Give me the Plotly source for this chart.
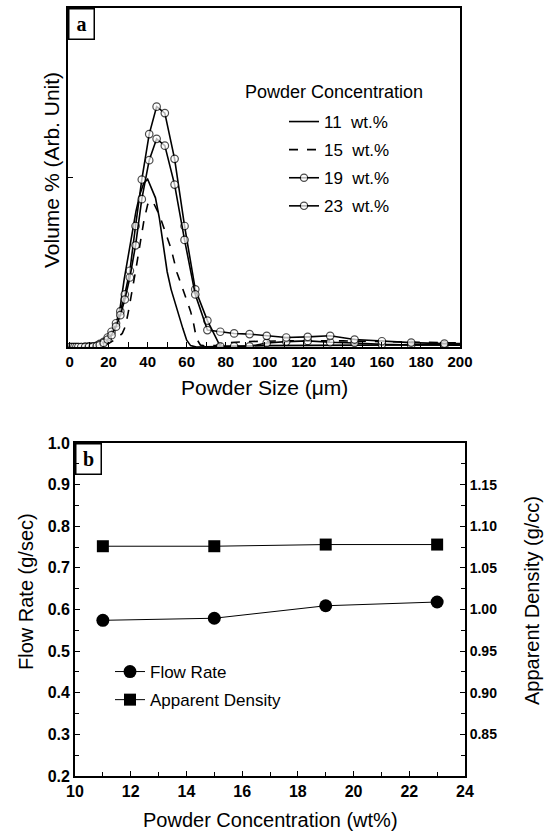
import plotly.graph_objects as go

# ---------------- Panel (a) data ----------------
size_bins = [0.5, 1.5, 2.5, 3.5, 4.5, 6, 8, 10, 12, 14, 15.5, 17.5, 19.5, 21.5, 23.8, 26, 28.3,
             30.9, 33.8, 37, 40.8, 44.6, 48.8, 53.8, 58.9, 64.4, 70.6, 77.2, 84.3, 92.2, 101,
             111, 122, 133.5, 146, 160, 175, 192, 200]
vol_19 = [0, 0, 0, 0, 0, 0, 0.001, 0.001, 0.002, 0.004, 0.009, 0.015, 0.028, 0.045, 0.07, 0.105,
          0.155, 0.225, 0.357, 0.494, 0.628, 0.709, 0.69, 0.555, 0.357, 0.17, 0.078, 0.002, 0.002,
          0.002, 0.012, 0.016, 0.018, 0.014, 0.012, 0.008, 0.006, 0.005, 0.005]
vol_23 = [0, 0, 0, 0, 0, 0, 0, 0.001, 0.001, 0.003, 0.006, 0.012, 0.022, 0.035, 0.06, 0.094,
          0.14, 0.205, 0.3, 0.436, 0.551, 0.614, 0.594, 0.479, 0.316, 0.155, 0.05, 0.045, 0.04,
          0.038, 0.033, 0.028, 0.03, 0.033, 0.022, 0.017, 0.013, 0.01, 0.01]

size_11 = [0, 10, 15, 18, 20, 22, 24, 26, 28, 30, 32, 34, 36, 38, 40, 42, 44, 46, 48, 50, 52, 54,
           56, 58, 60, 62, 65, 70, 80, 100, 130, 160, 200]
vol_11 = [0, 0, 0.003, 0.01, 0.02, 0.04, 0.07, 0.12, 0.2, 0.27, 0.33, 0.4, 0.45, 0.483, 0.495,
          0.47, 0.44, 0.38, 0.3, 0.222, 0.17, 0.13, 0.095, 0.055, 0.02, 0.004, 0, 0, 0.002, 0.004,
          0.005, 0.006, 0.007]

size_15 = [0, 10, 15, 20, 24, 27, 28.5, 30, 32, 34, 36, 38, 40, 41.5, 43, 46, 49, 52, 55, 58, 60,
           62, 63.5, 65, 67, 70, 75, 80, 90, 110, 140, 170, 200]
vol_15 = [0, 0, 0.002, 0.01, 0.025, 0.04, 0.06, 0.1, 0.16, 0.23, 0.3, 0.37, 0.42, 0.432, 0.425,
          0.39, 0.34, 0.29, 0.22, 0.17, 0.14, 0.105, 0.07, 0.025, 0.006, 0.002, 0.005, 0.012,
          0.016, 0.018, 0.018, 0.014, 0.012]

x_ticks_a = [0, 20, 40, 60, 80, 100, 120, 140, 160, 180, 200]

# ---------------- Panel (b) data ----------------
conc = [11, 15, 19, 23]
flow_rate = [0.574, 0.579, 0.609, 0.618]
app_density = [1.076, 1.076, 1.078, 1.078]
dens_ticks = [0.85, 0.90, 0.95, 1.00, 1.05, 1.10, 1.15]

W, H = 544, 833
def px(x):
    return x / W
def py(y):
    return 1 - y / H

FONT = "Liberation Sans, Arial, sans-serif"
SERIF = "Liberation Serif, Times New Roman, serif"

fig = go.Figure()

open_sizes = [7.5] * (len(size_bins) - 1) + [0]

fig.add_trace(go.Scatter(x=size_11, y=vol_11, mode="lines", name="11  wt.%",
                         line=dict(color="black", width=1.6), legendgroup="g1",
                         xaxis="x", yaxis="y", legend="legend"))
fig.add_trace(go.Scatter(x=size_15, y=vol_15, mode="lines", name="15  wt.%",
                         line=dict(color="black", width=1.6, dash="dash"), legendgroup="g2",
                         xaxis="x", yaxis="y", legend="legend"))
fig.add_trace(go.Scatter(x=size_bins, y=vol_19, mode="lines+markers", name="19  wt.%",
                         line=dict(color="black", width=1.6),
                         marker=dict(symbol="circle", size=open_sizes, color="white",
                                     line=dict(color="black", width=1.2)),
                         legendgroup="g3", xaxis="x", yaxis="y", legend="legend"))
fig.add_trace(go.Scatter(x=size_bins, y=vol_23, mode="lines+markers", name="23  wt.%",
                         line=dict(color="black", width=1.6),
                         marker=dict(symbol="circle", size=open_sizes, color="white",
                                     line=dict(color="black", width=1.2)),
                         legendgroup="g4", xaxis="x", yaxis="y", legend="legend"))

fig.add_trace(go.Scatter(x=conc, y=flow_rate, mode="lines+markers", name="Flow Rate",
                         line=dict(color="black", width=1),
                         marker=dict(symbol="circle", size=13, color="black"),
                         legendgroup="b1", xaxis="x2", yaxis="y2", legend="legend2"))
fig.add_trace(go.Scatter(x=conc, y=app_density, mode="lines+markers", name="Apparent Density",
                         line=dict(color="black", width=1),
                         marker=dict(symbol="square", size=12, color="black"),
                         legendgroup="b2", xaxis="x2", yaxis="y3", legend="legend2"))

axis_common = dict(showline=True, linecolor="black", linewidth=1.8, ticks="inside",
                   tickcolor="black", ticklen=5, tickwidth=1.3, showgrid=False, zeroline=False,
                   automargin=False)

fig.update_layout(
    width=W, height=H,
    margin=dict(l=0, r=0, t=0, b=0, autoexpand=False),
    paper_bgcolor="white", plot_bgcolor="white",
    font=dict(family=FONT, color="black"),
    xaxis=dict(domain=[px(68), px(460)], anchor="y", range=[-0.8, 200],
               tickvals=x_ticks_a, mirror=True,
               tickfont=dict(size=15, family=FONT, weight="bold"),
               minor=dict(dtick=10, ticks="inside", ticklen=5, tickcolor="black", tickwidth=1.3),
               **axis_common),
    yaxis=dict(domain=[py(347), py(8)], anchor="x", range=[0, 1], tickvals=[0.5],
               showticklabels=False, mirror=True, **axis_common),
    xaxis2=dict(domain=[px(75), px(465)], anchor="y2", range=[10, 24], dtick=2, tick0=10,
                mirror=True,
                tickfont=dict(size=16, family=FONT, weight="bold"),
                minor=dict(dtick=1, ticks="inside", ticklen=4, tickcolor="black", tickwidth=1.2),
                **axis_common),
    yaxis2=dict(domain=[py(776), py(443)], anchor="x2", range=[0.2, 1.0], dtick=0.1, tick0=0.2,
                tickformat=".1f",
                tickfont=dict(size=16, family=FONT, weight="bold"),
                minor=dict(dtick=0.05, ticks="inside", ticklen=4, tickcolor="black", tickwidth=1.2),
                **axis_common),
    yaxis3=dict(overlaying="y2", anchor="x2", side="right", range=[0.8, 1.2],
                tickvals=dens_ticks, ticktext=[f"{v:.2f}" for v in dens_ticks],
                tickfont=dict(size=14, family=FONT, weight="bold"),
                minor=dict(dtick=0.025, ticks="inside", ticklen=4, tickcolor="black", tickwidth=1.2),
                **axis_common),
    legend=dict(x=px(284), y=py(104), xanchor="left", yanchor="top",
                bgcolor="rgba(0,0,0,0)", borderwidth=0, traceorder="grouped",
                tracegroupgap=3, font=dict(size=17, family=FONT)),
    legend2=dict(x=px(110), y=py(654), xanchor="left", yanchor="top",
                 bgcolor="rgba(0,0,0,0)", borderwidth=0, traceorder="grouped",
                 tracegroupgap=3, font=dict(size=17, family=FONT)),
    showlegend=True,
)

annotations = [
    dict(text="<b>a</b>", x=px(68), y=py(8), xref="paper", yref="paper", xanchor="left",
         yanchor="top", showarrow=False, font=dict(size=20, family=SERIF),
         bordercolor="black", borderwidth=1.5, borderpad=1, width=22, height=27),
    dict(text="<b>b</b>", x=px(75), y=py(443), xref="paper", yref="paper", xanchor="left",
         yanchor="top", showarrow=False, font=dict(size=20, family=SERIF),
         bordercolor="black", borderwidth=1.5, borderpad=1, width=22, height=27),
    dict(text="Powder Concentration", x=px(243), y=py(92), xref="paper", yref="paper",
         xanchor="left", yanchor="middle", showarrow=False, font=dict(size=18, family=FONT)),
    dict(text="Volume % (Arb. Unit)", x=px(51), y=py(170), xref="paper", yref="paper",
         xanchor="center", yanchor="middle",
         textangle=-90, showarrow=False, font=dict(size=21, family=FONT)),
    dict(text="Powder Size (\u03bcm)", x=px(264), y=py(387), xref="paper", yref="paper",
         xanchor="center", yanchor="middle",
         showarrow=False, font=dict(size=21, family=FONT)),
    dict(text="Flow Rate (g/sec)", x=px(26), y=py(592), xref="paper", yref="paper",
         xanchor="center", yanchor="middle",
         textangle=-90, showarrow=False, font=dict(size=20, family=FONT)),
    dict(text="Apparent Density (g/cc)", x=px(532), y=py(601), xref="paper", yref="paper",
         xanchor="center", yanchor="middle",
         textangle=-90, showarrow=False, font=dict(size=20, family=FONT)),
    dict(text="Powder Concentration (wt%)", x=px(270), y=py(820), xref="paper", yref="paper",
         xanchor="center", yanchor="middle",
         showarrow=False, font=dict(size=20, family=FONT)),
]
fig.update_layout(annotations=annotations)

fig.write_html("out.html", config={"displayModeBar": False},
               post_script="document.body.style.margin='0';document.body.style.overflow='hidden';")
